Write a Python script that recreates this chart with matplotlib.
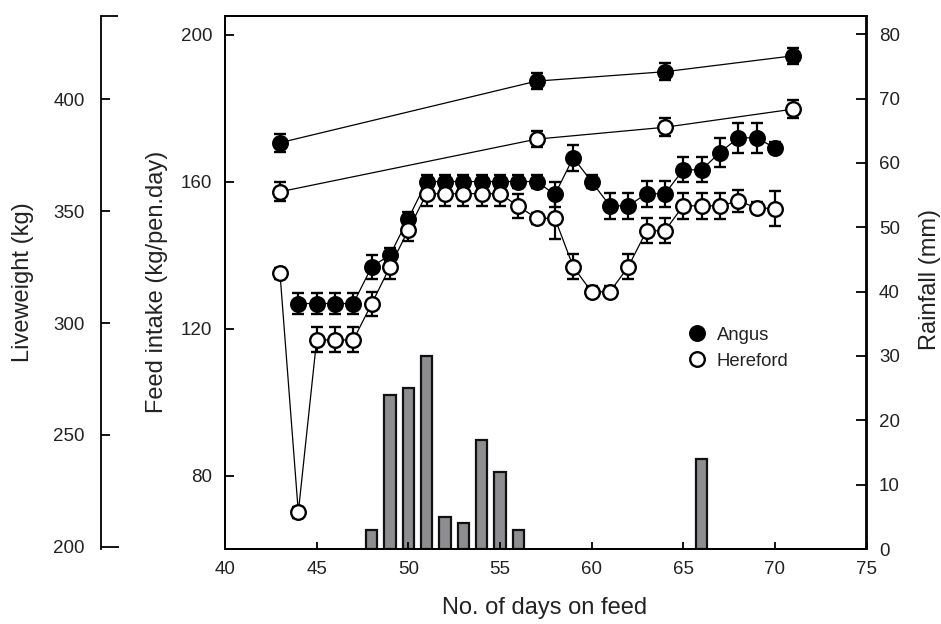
import numpy as np
import matplotlib
matplotlib.use("Agg")
import matplotlib.pyplot as plt
from matplotlib.lines import Line2D

plt.rcParams["font.family"] = ["Liberation Sans", "DejaVu Sans"]

# ── data ────────────────────────────────────────────────────────────────────
lw_days       = [43, 57, 64, 71]
angus_lw      = [380.5, 408.0, 412.2, 419.3]
angus_lw_err  = [4.1, 3.6, 3.7, 3.7]
heref_lw      = [358.6, 382.1, 387.4, 395.5]
heref_lw_err  = [4.2, 3.7, 4.0, 4.1]

angus_days     = list(range(44, 71))
angus_feed     = [126.8, 126.8, 126.8, 126.8, 136.8, 140.0, 149.9,
                  160, 160, 160, 160, 160, 160, 160,
                  156.5, 166.5, 160, 153.4, 153.4, 156.7, 156.7,
                  163.2, 163.2, 167.9, 171.9, 171.9, 169.2]
angus_feed_err = [2.9, 2.9, 2.9, 2.9, 3.2, 1.8, 1.8,
                  1.8, 1.8, 1.8, 1.8, 1.8, 1.8, 1.8,
                  3.5, 3.5, 1.8, 3.5, 3.5, 3.5, 3.5,
                  3.4, 3.4, 4.0, 4.1, 4.1, 1.5]

heref_days     = list(range(43, 71))
heref_feed     = [135.0, 70.0, 116.9, 116.9, 116.9, 126.7, 136.8, 146.8,
                  156.7, 156.7, 156.7, 156.7, 156.7, 153.3, 150.0, 150.0,
                  136.8, 130.0, 130.0, 136.8, 146.6, 146.6,
                  153.4, 153.4, 153.4, 154.7, 152.9, 152.6]
heref_feed_err = [1.5, 1.5, 3.4, 3.4, 3.4, 3.2, 3.2, 3.0,
                  3.4, 3.4, 3.4, 3.4, 3.4, 3.3, 1.5, 5.7,
                  3.4, 1.5, 1.5, 3.4, 3.4, 3.4,
                  3.5, 3.5, 3.5, 2.9, 1.5, 4.7]

rain_days = [48, 49, 50, 51, 52, 53, 54, 55, 56, 66]
rain_mm   = [3, 24, 25, 30, 5, 4, 17, 12, 3, 14]

# ── figure ───────────────────────────────────────────────────────────────────
TXT = "#222222"
TICK_FS = 13.5
LAB_FS = 17

fig = plt.figure(figsize=(9.41, 6.24), dpi=100)
ax = fig.add_axes([225/941, 1 - 549/624, 641.5/941, 533.5/624])
rain = ax.twinx()
lw = ax.twinx()
ax.set_zorder(rain.get_zorder() + 1)
lw.set_zorder(ax.get_zorder() + 1)
ax.patch.set_visible(False)
lw.patch.set_visible(False)

# rainfall bars (right axis)
rain.bar(rain_days, rain_mm, width=0.62, color="#8e8e91",
         edgecolor="#111111", linewidth=1.6)
rain.set_ylim(0, 82.9)
rain.set_yticks(np.arange(0, 81, 10))

# feed intake
ekw = dict(color="black", lw=0.9, elinewidth=1.6, capsize=4.5, capthick=1.6,
           markersize=10.5, markeredgewidth=1.7, markeredgecolor="black")
ax.errorbar(angus_days, angus_feed, yerr=angus_feed_err, fmt="-o",
            markerfacecolor="black", **ekw)
ax.errorbar(heref_days, heref_feed, yerr=heref_feed_err, fmt="-o",
            markerfacecolor="white", **ekw)
ax.set_xlim(40, 75)
ax.set_ylim(60, 205.2)
ax.set_xticks(np.arange(40, 76, 5))
ax.set_yticks([80, 120, 160, 200])

# liveweight (outer left axis)
lw.errorbar(lw_days, angus_lw, yerr=angus_lw_err, fmt="-o",
            markerfacecolor="black", **ekw)
lw.errorbar(lw_days, heref_lw, yerr=heref_lw_err, fmt="-o",
            markerfacecolor="white", **ekw)
lw.set_ylim(199.1, 437.3)
lw.set_yticks([200, 250, 300, 350, 400])
lw.set_yticks([437.3], minor=True)

# ── spines & ticks ───────────────────────────────────────────────────────────
for s in ax.spines.values():
    s.set_linewidth(1.3)
for s in rain.spines.values():
    s.set_linewidth(1.3)
lw.spines["right"].set_visible(False)
lw.spines["top"].set_visible(False)
lw.spines["bottom"].set_visible(False)
lw.spines["left"].set_visible(True)
lw.spines["left"].set_position(("outward", 89))
lw.spines["left"].set_linewidth(1.3)
lw.yaxis.set_ticks_position("left")
lw.yaxis.set_label_position("left")

ax.tick_params(axis="x", direction="in", length=5, width=1.3,
               labelsize=TICK_FS, labelcolor=TXT, pad=9)
ax.tick_params(axis="y", direction="in", length=6.5, width=1.3,
               labelsize=TICK_FS, labelcolor=TXT, pad=9)
rain.tick_params(axis="y", direction="in", length=7, width=1.3,
                 labelsize=TICK_FS, labelcolor=TXT, pad=9)
lw.tick_params(axis="y", which="major", direction="in", length=6.5,
               width=1.3, labelsize=TICK_FS, labelcolor=TXT, pad=12)
lw.tick_params(axis="y", which="minor", direction="in", length=12,
               width=1.3, labelleft=False)
# long bottom tick on the liveweight axis
lw.yaxis.get_major_ticks()[0].tick1line.set_markersize(13)

# ── legend ───────────────────────────────────────────────────────────────────
handles = [Line2D([], [], ls="none", marker="o", ms=10.5, mfc="black",
                  mec="black", mew=1.7),
           Line2D([], [], ls="none", marker="o", ms=10.5, mfc="white",
                  mec="black", mew=1.7)]
ax.legend(handles, ["Angus", "Hereford"], loc="upper left",
          bbox_to_anchor=(0.689, 0.448), frameon=False, fontsize=13.3,
          handletextpad=0.3, labelspacing=0.5, handlelength=1.5,
          labelcolor=TXT)

# ── labels ───────────────────────────────────────────────────────────────────
fig.text(23/941, 1 - 282/624, "Liveweight (kg)", rotation=90,
         ha="center", va="center", fontsize=LAB_FS, color=TXT)
fig.text(157/941, 1 - 282/624, "Feed intake (kg/pen.day)", rotation=90,
         ha="center", va="center", fontsize=LAB_FS, color=TXT)
fig.text(930/941, 1 - 280/624, "Rainfall (mm)", rotation=90,
         ha="center", va="center", fontsize=LAB_FS, color=TXT)
fig.text(545/941, 1 - 608/624, "No. of days on feed",
         ha="center", va="center", fontsize=LAB_FS, color=TXT)

fig.savefig("out.png", dpi=100, facecolor="white")
